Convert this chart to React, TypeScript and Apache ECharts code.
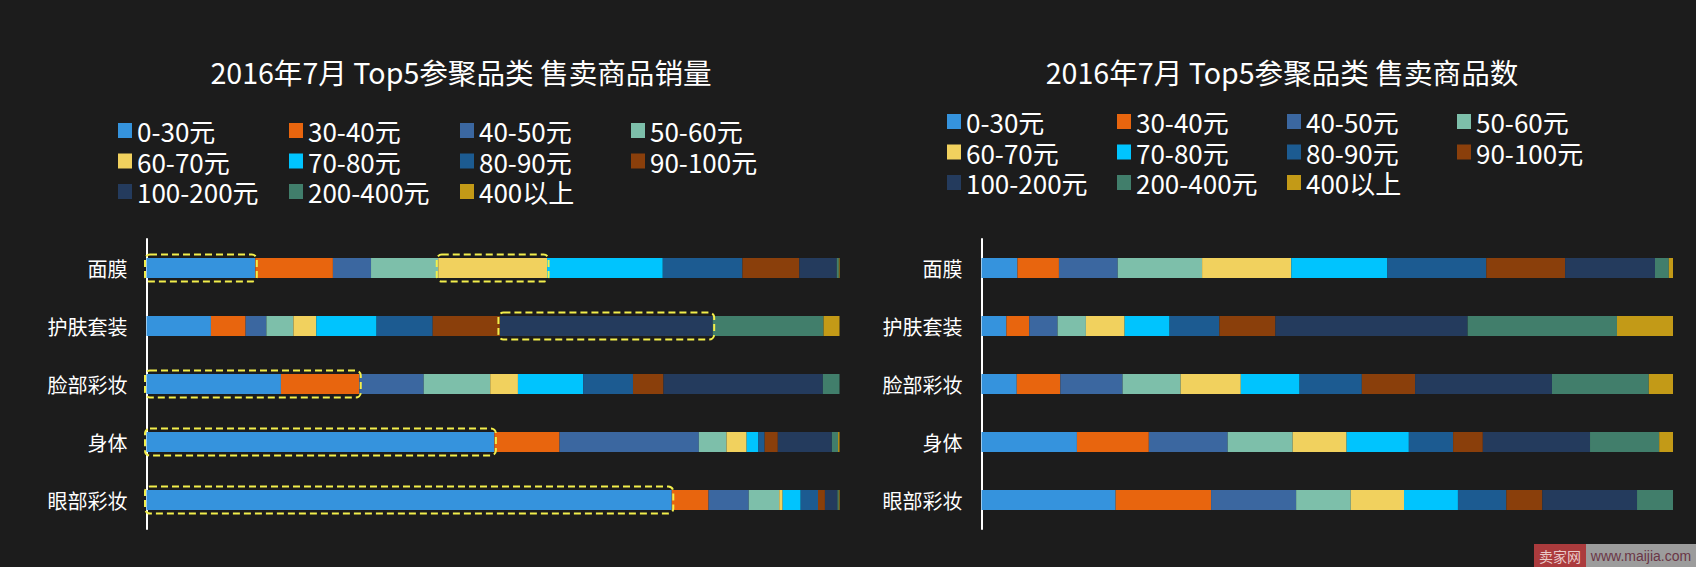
import React, { useEffect, useRef } from "react";
import * as echarts from "echarts";

const BG = "#1c1c1c";
const FONT = '"Noto Sans CJK SC", "Noto Sans", sans-serif';

const categories = ["面膜", "护肤套装", "脸部彩妆", "身体", "眼部彩妆"];
const priceBands = [
  "0-30元", "30-40元", "40-50元", "50-60元", "60-70元", "70-80元",
  "80-90元", "90-100元", "100-200元", "200-400元", "400以上",
];
const bandColors = [
  "#3593dd", "#e8650e", "#3b67a0", "#7dbfaa", "#f1d15e", "#00c4fe",
  "#1c5b91", "#8a3f0b", "#243b5d", "#417e6b", "#c39a17",
];

// 售卖商品销量 share (%) by price band, one array per category
const salesMask = [15.7, 11.2, 5.5, 9.7, 15.7, 16.7, 11.5, 8.2, 5.4, 0.3, 0.1];
const salesSkinSet = [9.3, 5.0, 3.0, 3.9, 3.3, 8.7, 8.1, 9.7, 30.7, 16.0, 2.3];
const salesFaceMakeup = [19.4, 11.3, 9.3, 9.6, 4.0, 9.4, 7.2, 4.4, 23.0, 2.4, 0];
const salesBody = [50.2, 9.4, 20.1, 4.0, 2.9, 1.7, 0.9, 1.9, 7.8, 0.9, 0.2];
const salesEyeMakeup = [75.8, 5.3, 5.8, 4.4, 0.5, 2.6, 2.5, 1.0, 1.8, 0.2, 0.1];

// 售卖商品数 share (%) by price band, one array per category
const countMask = [5.2, 6.0, 8.5, 12.2, 12.9, 13.9, 14.3, 11.4, 13.0, 2.0, 0.6];
const countSkinSet = [3.6, 3.3, 4.1, 4.1, 5.6, 6.5, 7.2, 8.1, 27.8, 21.6, 8.1];
const countFaceMakeup = [5.1, 6.3, 9.0, 8.4, 8.7, 8.5, 9.0, 7.7, 19.8, 14.0, 3.5];
const countBody = [13.8, 10.4, 11.4, 9.4, 7.8, 9.0, 6.4, 4.3, 15.5, 10.0, 2.0];
const countEyeMakeup = [19.4, 13.8, 12.3, 7.9, 7.7, 7.8, 7.0, 5.2, 13.7, 5.2, 0];

// highlighted spans on the sales chart: [category index, first band, last band]
const salesHighlights = [
  [0, 0, 0],
  [0, 4, 4],
  [1, 8, 8],
  [2, 0, 1],
  [3, 0, 0],
  [4, 0, 0],
];

const leftTitle = "2016年7月 Top5参聚品类 售卖商品销量";
const rightTitle = "2016年7月 Top5参聚品类 售卖商品数";

const salesRows = [salesMask, salesSkinSet, salesFaceMakeup, salesBody, salesEyeMakeup];
const countRows = [countMask, countSkinSet, countFaceMakeup, countBody, countEyeMakeup];

function barSeries(rows: number[][], idx: number, stack: string) {
  return priceBands.map((band, b) => ({
    type: "bar",
    name: band,
    stack,
    xAxisIndex: idx,
    yAxisIndex: idx,
    barWidth: 20,
    itemStyle: { color: bandColors[b] },
    emphasis: { disabled: true },
    data: rows.map((r) => r[b]),
  }));
}

function legendColumns(lefts: number[], top: number) {
  return lefts.map((x, k) => ({
    orient: "vertical",
    left: x,
    top,
    padding: 0,
    itemGap: 3.5,
    itemWidth: 14,
    itemHeight: 15,
    icon: "rect",
    selectedMode: false,
    data: priceBands.filter((_, i) => i % 4 === k),
    textStyle: { color: "#ffffff", fontSize: 26, lineHeight: 27, fontFamily: FONT },
  }));
}

function axisPair(idx: number) {
  return {
    x: {
      type: "value",
      gridIndex: idx,
      min: 0,
      max: 100,
      show: false,
    },
    y: {
      type: "category",
      gridIndex: idx,
      data: categories,
      inverse: true,
      axisLine: { show: true, lineStyle: { color: "#ffffff", width: 2 } },
      axisTick: { show: false },
      splitLine: { show: false },
      axisLabel: { color: "#ffffff", fontSize: 20, margin: 19, fontFamily: FONT },
    },
  };
}

export default function App() {
  const ref = useRef<HTMLDivElement>(null);

  useEffect(() => {
    document.body.style.margin = "0";
    document.body.style.background = BG;
    const chart = echarts.init(ref.current!, null, { renderer: "svg" });

    const a0 = axisPair(0);
    const a1 = axisPair(1);

    const highlightData = salesHighlights.map(([c, from, to]) => {
      const row = salesRows[c];
      let start = 0;
      for (let i = 0; i < from; i++) start += row[i];
      let end = start;
      for (let i = from; i <= to; i++) end += row[i];
      return [c, start, end];
    });

    const option: any = {
      animation: false,
      backgroundColor: BG,
      textStyle: { fontFamily: FONT },
      title: [
        {
          text: leftTitle,
          left: 461,
          top: 71,
          padding: 0,
          textAlign: "center",
          textVerticalAlign: "middle",
          textStyle: { color: "#ffffff", fontSize: 28.6, fontWeight: "normal", fontFamily: FONT },
        },
        {
          text: rightTitle,
          left: 1282,
          top: 71,
          padding: 0,
          textAlign: "center",
          textVerticalAlign: "middle",
          textStyle: { color: "#ffffff", fontSize: 28.6, fontWeight: "normal", fontFamily: FONT },
        },
      ],
      legend: [
        ...legendColumns([118, 289, 460, 631], 117),
        ...legendColumns([947, 1117, 1287, 1457], 108),
      ],
      grid: [
        { left: 146.5, top: 239, width: 693, height: 290 },
        { left: 981.5, top: 239, width: 691.5, height: 290 },
      ],
      xAxis: [a0.x, a1.x],
      yAxis: [a0.y, a1.y],
      series: [
        ...barSeries(salesRows, 0, "sales"),
        ...barSeries(countRows, 1, "count"),
        {
          type: "custom",
          name: "highlight",
          xAxisIndex: 0,
          yAxisIndex: 0,
          z: 10,
          silent: true,
          encode: { x: [1, 2], y: 0 },
          data: highlightData,
          renderItem: (params: any, api: any) => {
            const c = api.value(0);
            const p0 = api.coord([api.value(1), c]);
            const p1 = api.coord([api.value(2), c]);
            const h = 27;
            return {
              type: "rect",
              shape: {
                x: p0[0] - 1.5,
                y: p0[1] - h / 2,
                width: p1[0] - p0[0] + 3,
                height: h,
                r: 5,
              },
              style: {
                fill: "none",
                stroke: "#f2ee4b",
                lineWidth: 2,
                lineDash: [7, 4],
              },
            };
          },
        },
      ],
      graphic: [
        {
          type: "rect",
          left: 1534,
          top: 544,
          shape: { width: 52, height: 23 },
          style: { fill: "#ab3b3d" },
        },
        {
          type: "text",
          x: 1560,
          y: 555.5,
          style: {
            text: "卖家网",
            fill: "#e9c9c9",
            fontSize: 14,
            fontFamily: FONT,
            textAlign: "center",
            textVerticalAlign: "middle",
          },
        },
        {
          type: "rect",
          left: 1586,
          top: 544,
          shape: { width: 110, height: 23 },
          style: { fill: "#9c9c9c" },
        },
        {
          type: "text",
          x: 1641,
          y: 555.5,
          style: {
            text: "www.maijia.com",
            fill: "#6a3646",
            fontSize: 14,
            fontFamily: '"Liberation Sans", Arial, sans-serif',
            textAlign: "center",
            textVerticalAlign: "middle",
          },
        },
      ],
    };

    chart.setOption(option);
    return () => chart.dispose();
  }, []);

  return <div ref={ref} style={{ width: 1696, height: 567, background: BG }} />;
}
